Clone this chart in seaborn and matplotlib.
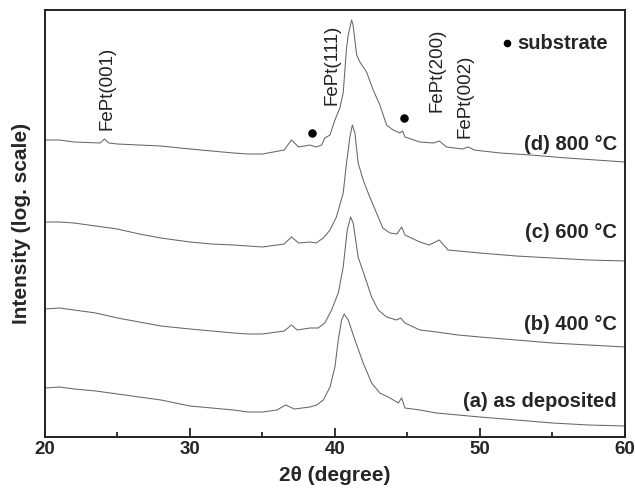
"""
XRD patterns of FePt films (log scale, offset)
"""
from matplotlib import pyplot as plt
from matplotlib.ticker import MultipleLocator, NullLocator
import seaborn as sns

# 2theta / intensity (arb. units, log scale with offset)
theta_a = [20, 21, 22, 23.5, 25, 26.5, 28, 30, 31.5, 33, 34, 35, 36.0, 36.6, 37.2, 38.28, 38.74, 39.2,
           39.66, 40.0, 40.23, 40.46, 40.64, 40.92, 41.38, 41.95, 42.53, 43.1, 43.8, 44.37, 44.6, 44.83,
           45.86, 47, 48.5, 50, 52.5, 55, 57.5, 60]
int_a = [49, 50, 48, 46, 43, 40, 37, 31, 29, 27, 25, 25, 27, 32, 28, 30, 32, 37,
         50, 70, 97, 117, 123, 117, 97, 74, 54, 44, 39, 34, 39, 29,
         27, 24, 22, 20, 17, 14, 12, 11]

theta_b = [20, 21, 22, 23.5, 25, 26.5, 28, 30, 31.5, 33, 34, 35, 36.5, 37.0, 37.4, 38.28, 38.85, 39.3,
           39.77, 40.23, 40.57, 40.85, 41.08, 41.26, 41.6, 42.07, 42.53, 42.99, 43.56, 44.25, 44.53,
           44.83, 45.86, 47, 48.5, 50, 52.5, 55, 57.5, 60]
int_b = [128, 129, 127, 124, 119, 115, 111, 108, 106, 104, 103, 103, 106, 112, 107, 109, 109, 114,
         127, 144, 170, 207, 220, 214, 180, 160, 140, 127, 120, 117, 119,
         114, 107, 105, 102, 100, 97, 94, 92, 90]

theta_c = [20, 21, 22, 23.5, 25, 26.5, 28, 30, 31.5, 33, 34, 35, 36.5, 37.0, 37.5, 38.28, 38.7, 39.2,
           39.66, 40.1, 40.57, 40.8, 41.03, 41.2, 41.38, 41.6, 41.95, 42.4, 42.87, 43.3, 43.8, 44.28,
           44.6, 44.83, 45.86, 46.5, 47.2, 47.8, 50, 52.5, 55, 57.5, 60]
int_c = [215, 215, 214, 211, 208, 203, 199, 195, 193, 192, 191, 190, 193, 200, 194, 195, 194, 199,
         207, 220, 244, 274, 300, 312, 304, 274, 257, 240, 224, 209, 204, 203,
         210, 202, 195, 192, 197, 187, 184, 181, 179, 177, 176]

theta_d = [20, 21, 22, 23.8, 24.1, 24.4, 25, 26.5, 28, 30, 31.5, 33, 34, 35, 36.5, 37.0, 37.5, 38.28,
           38.7, 39.08, 39.3, 39.66, 40.0, 40.34, 40.57, 40.8, 40.92, 41.15, 41.25, 41.5, 41.72, 42.18,
           42.64, 43.1, 43.56, 44.02, 44.48, 44.67, 44.83, 45.86, 46.8, 47.2, 47.7, 48.8, 49.2, 49.6,
           51.4, 53.5, 56, 58, 60]
int_d = [297, 297, 295, 294, 298, 294, 293, 292, 291, 288, 286, 284, 283, 283, 287, 297, 290, 292,
         290, 292, 299, 302, 317, 329, 344, 389, 402, 417, 412, 382, 375, 365,
         347, 332, 312, 307, 304, 306, 300, 295, 294, 296, 290, 288, 290, 287,
         284, 282, 279, 277, 275]

curves = [(theta_a, int_a), (theta_b, int_b), (theta_c, int_c), (theta_d, int_d)]

sample_labels = ['(a) as deposited', '(b) 400 °C', '(c) 600 °C', '(d) 800 °C']
sample_label_y = [35, 112, 205, 293]

peak_labels = ['FePt(001)', 'FePt(111)', 'FePt(200)', 'FePt(002)']
peak_x = [24.3, 39.83, 47.03, 48.97]
peak_y = [307, 332, 325, 299]

substrate_x = [38.4, 44.75]
substrate_y = [304, 319]

sns.set_style('ticks')
plt.rcParams['font.family'] = ['Liberation Sans', 'DejaVu Sans']

fig = plt.figure(figsize=(6.35, 4.93), dpi=100)
ax = fig.add_axes([0.0709, 0.1136, 0.9131, 0.8661])

for tt, ii in curves:
    sns.lineplot(x=tt, y=ii, ax=ax, color='#666666', linewidth=0.75)

ax.scatter(substrate_x, substrate_y, s=26, color='black', zorder=3)
ax.scatter([51.86], [394], s=20, color='black', zorder=3)
ax.text(52.55, 394, 'substrate', fontsize=14.5, fontweight='bold', va='center', ha='left')

for lab, yy in zip(sample_labels, sample_label_y):
    ax.text(59.45, yy, lab, fontsize=14.5, fontweight='bold', ha='right', va='center')

for lab, xx, yy in zip(peak_labels, peak_x, peak_y):
    ax.text(xx, yy, lab, fontsize=13.5, rotation=90, ha='center', va='bottom', color='#222222')

ax.set_xlim(20, 60)
ax.set_ylim(0, 427)
ax.xaxis.set_major_locator(MultipleLocator(10))
ax.xaxis.set_minor_locator(MultipleLocator(5))
ax.yaxis.set_major_locator(NullLocator())
ax.tick_params(axis='x', which='major', direction='in', length=6.5, width=1.3, labelsize=13.5, pad=3)
ax.tick_params(axis='x', which='minor', direction='in', length=3.8, width=1.3)
for lab in ax.get_xticklabels():
    lab.set_fontweight('bold')
for sp in ax.spines.values():
    sp.set_linewidth(1.4)
    sp.set_color('#222222')

ax.set_xlabel('2θ (degree)', fontsize=15, fontweight='bold', labelpad=6)
ax.set_ylabel('Intensity (log. scale)', fontsize=15, fontweight='bold', labelpad=10)

plt.savefig('out.png', dpi=100)
